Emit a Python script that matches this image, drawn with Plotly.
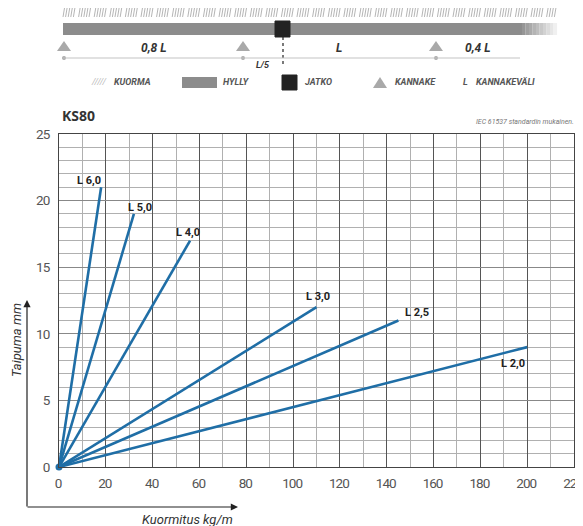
import plotly.graph_objects as go

# ---- data ----
series_names = ["L 6,0", "L 5,0", "L 4,0", "L 3,0", "L 2,5", "L 2,0"]
end_load = [18, 32, 56, 110, 145, 200]      # kg/m
end_defl = [21, 19, 17, 12, 11, 9]          # mm
label_shift = [(-12, 7), (6, 6), (-2, 8), (1, 11), (19, 8), (-14, -16)]

x_ticks = [0, 20, 40, 60, 80, 100, 120, 140, 160, 180, 200, 220]
y_ticks = [0, 5, 10, 15, 20, 25]

# page (screenshot) geometry; the html body adds an 8px margin
PW, PH, OFF = 583, 526, 8
L, R, T, B = 59, 574, 134, 467

def px(x):
    return (x - L) / (R - L)

def py(y):
    return (B - y) / (B - T)

def tick_text(v):
    return '<span style="letter-spacing:-1px">%s</span>' % v

FONT = "Roboto, Liberation Sans, sans-serif"
BLUE = "#1f6ea6"

fig = go.Figure()
for name, xe, ye in zip(series_names, end_load, end_defl):
    fig.add_trace(go.Scatter(x=[0, xe], y=[0, ye], mode="lines", name=name,
                             line=dict(color=BLUE, width=2.6), showlegend=False,
                             hoverinfo="skip"))
fig.add_trace(go.Scatter(x=[0], y=[0], mode="markers", marker=dict(color=BLUE, size=7),
                         showlegend=False, hoverinfo="skip", cliponaxis=False))

annotations = []
for name, xe, ye, (dx, dy) in zip(series_names, end_load, end_defl, label_shift):
    annotations.append(dict(x=xe, y=ye, xref="x", yref="y", text="<b>%s</b>" % name,
                            showarrow=False, xshift=dx, yshift=dy,
                            font=dict(family=FONT, size=11, color="#222")))

shapes = []

# --- top diagram ---
segs = []
x = 63.0
i = 0
while x < 555:
    if i % 6 != 5:
        segs.append("M%.4f,%.4f L%.4f,%.4f" % (px(x), py(17), px(x + 1.5), py(8)))
    x += 2.6
    i += 1
shapes.append(dict(type="path", xref="paper", yref="paper", path=" ".join(segs),
                   line=dict(color="#b5b5b5", width=1)))

shapes.append(dict(type="rect", xref="paper", yref="paper", x0=px(63), x1=px(522),
                   y0=py(35), y1=py(23), fillcolor="#8c8c8c", line=dict(width=0)))
steps = 10
for k in range(steps):
    xa = 522 + k * 3.5
    c = int(140 + (250 - 140) * (k + 1) / (steps + 1))
    shapes.append(dict(type="rect", xref="paper", yref="paper", x0=px(xa), x1=px(xa + 3.6),
                       y0=py(35), y1=py(23), fillcolor="rgb(%d,%d,%d)" % (c, c, c),
                       line=dict(width=0)))
shapes.append(dict(type="rect", xref="paper", yref="paper", x0=px(275), x1=px(290),
                   y0=py(37), y1=py(21), fillcolor="#222", line=dict(color="#222", width=1)))
shapes.append(dict(type="line", xref="paper", yref="paper", x0=px(283), x1=px(283),
                   y0=py(37), y1=py(64), line=dict(color="#222", width=1.2, dash="dot")))
for cx in [64, 243, 436]:
    shapes.append(dict(type="path", xref="paper", yref="paper",
                       path="M%.4f,%.4f L%.4f,%.4f L%.4f,%.4f Z" % (px(cx - 7), py(51), px(cx + 7), py(51), px(cx), py(41)),
                       fillcolor="#a9a9a9", line=dict(width=0)))
    shapes.append(dict(type="circle", xref="paper", yref="paper", x0=px(cx - 2), x1=px(cx + 2),
                       y0=py(60), y1=py(56), fillcolor="#a9a9a9", line=dict(width=0)))
shapes.append(dict(type="line", xref="paper", yref="paper", x0=px(63), x1=px(520),
                   y0=py(58), y1=py(58), line=dict(color="#c4c4c4", width=1.2)))

DIAG = dict(family=FONT, size=12, color="#333")
for txt, cx, cy in [("<b><i>0,8 L</i></b>", 153, 48), ("<b><i>L</i></b>", 339, 48),
                    ("<b><i>0,4 L</i></b>", 477, 48), ("<b><i>L/5</i></b>", 263, 65)]:
    annotations.append(dict(x=px(cx), y=py(cy), xref="paper", yref="paper", text=txt,
                            showarrow=False, xanchor="center", yanchor="middle",
                            font=DIAG if "L/5" not in txt else dict(family=FONT, size=9, color="#333")))

LEG = dict(family=FONT, size=9, color="#555")
annotations.append(dict(x=px(99), y=py(82), xref="paper", yref="paper", text="<i>/////</i>",
                        showarrow=False, xanchor="center", yanchor="middle",
                        font=dict(family=FONT, size=9, color="#bbb")))
shapes.append(dict(type="rect", xref="paper", yref="paper", x0=px(182), x1=px(217),
                   y0=py(88), y1=py(77), fillcolor="#8c8c8c", line=dict(width=0)))
shapes.append(dict(type="rect", xref="paper", yref="paper", x0=px(282), x1=px(297),
                   y0=py(90), y1=py(75), fillcolor="#222", line=dict(color="#222", width=1)))
shapes.append(dict(type="path", xref="paper", yref="paper",
                   path="M%.4f,%.4f L%.4f,%.4f L%.4f,%.4f Z" % (px(373), py(88), px(387), py(88), px(380), py(77)),
                   fillcolor="#a9a9a9", line=dict(width=0)))
for txt, cx in [("KUORMA", 132), ("HYLLY", 236), ("JATKO", 318), ("KANNAKE", 415),
                ("L", 465), ("KANNAKEVÄLI", 505)]:
    annotations.append(dict(x=px(cx), y=py(82), xref="paper", yref="paper",
                            text="<b><i>%s</i></b>" % txt, showarrow=False,
                            xanchor="center", yanchor="middle", font=LEG))

annotations.append(dict(x=px(60), y=py(115), xref="paper", yref="paper", text="<b>KS80</b>",
                        showarrow=False, xanchor="left", yanchor="middle",
                        font=dict(family="Open Sans, sans-serif", size=14, color="#333")))
annotations.append(dict(x=px(576), y=py(122), xref="paper", yref="paper",
                        text="<i>IEC 61537 standardin mukainen.</i>",
                        showarrow=False, xanchor="right", yanchor="middle",
                        font=dict(family=FONT, size=7, color="#777")))

annotations.append(dict(x=px(27), y=py(300), ax=0, ay=208, xref="paper", yref="paper",
                        axref="pixel", ayref="pixel", text="", showarrow=True,
                        arrowhead=2, arrowsize=1.2, arrowwidth=1.2, arrowcolor="#222"))
annotations.append(dict(x=px(238), y=py(507), ax=-212, ay=0, xref="paper", yref="paper",
                        axref="pixel", ayref="pixel", text="", showarrow=True,
                        arrowhead=2, arrowsize=1.2, arrowwidth=1.2, arrowcolor="#222"))
annotations.append(dict(x=px(16), y=py(340), xref="paper", yref="paper",
                        text="<i>Taipuma mm</i>", textangle=-90, showarrow=False,
                        xanchor="center", yanchor="middle",
                        font=dict(family=FONT, size=13, color="#333")))
annotations.append(dict(x=px(187), y=py(519), xref="paper", yref="paper",
                        text="<i>Kuormitus kg/m</i>", showarrow=False,
                        xanchor="center", yanchor="middle",
                        font=dict(family=FONT, size=13, color="#333")))

TICKF = dict(family=FONT, size=13.5, color="#555")
fig.update_layout(
    width=PW - OFF, height=PH - OFF,
    margin=dict(l=L - OFF, r=PW - R, t=T - OFF, b=PH - B),
    paper_bgcolor="white", plot_bgcolor="white",
    shapes=shapes, annotations=annotations, showlegend=False,
    xaxis=dict(range=[0, 220], tickvals=x_ticks, ticktext=[tick_text(v) for v in x_ticks],
               showgrid=True, gridcolor="#555", gridwidth=1,
               minor=dict(dtick=10, showgrid=True, gridcolor="#b0b0b0", gridwidth=1),
               showline=True, linecolor="#444", linewidth=1, mirror=True,
               zeroline=False, ticks="", tickfont=TICKF, ticklabelstandoff=4,
               ticklabelshift=-1, ticklabeloverflow="allow", automargin=False),
    yaxis=dict(range=[0, 25], tickvals=y_ticks, ticktext=[tick_text(v) for v in y_ticks],
               showgrid=True, gridcolor="#888", gridwidth=1,
               minor=dict(dtick=1, showgrid=True, gridcolor="#b0b0b0", gridwidth=1),
               showline=True, linecolor="#444", linewidth=1, mirror=True,
               zeroline=False, ticks="", tickfont=TICKF, ticklabelstandoff=6,
               automargin=False),
)

# hide page scrollbars (the body margin makes the page a few px taller than the window)
fig.write_html("out.html",
               post_script="document.documentElement.style.overflow='hidden';"
                           "document.body.style.overflow='hidden';")
